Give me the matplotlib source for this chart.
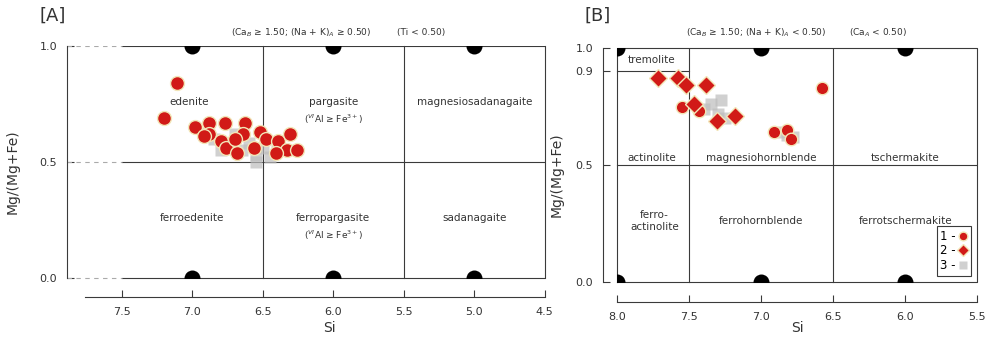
import numpy as np
import matplotlib
matplotlib.use("Agg")
import matplotlib.pyplot as plt
from matplotlib.patches import Rectangle

# Panel A data (Si, Mg/(Mg+Fe))
si_a1 = [7.11, 7.20, 6.98, 6.88, 6.77, 6.63, 6.88, 6.80, 6.64, 6.76, 6.68, 6.56, 6.52, 6.48, 6.39, 6.31, 6.33, 6.26, 6.41, 6.92, 6.70]
mg_a1 = [0.84, 0.69, 0.65, 0.67, 0.67, 0.67, 0.62, 0.59, 0.62, 0.56, 0.54, 0.56, 0.63, 0.60, 0.59, 0.62, 0.55, 0.55, 0.54, 0.61, 0.60]
si_a3 = [6.85, 6.75, 6.65, 6.55, 6.45, 6.90, 6.60, 6.50, 6.40, 6.70, 6.55, 6.80]
mg_a3 = [0.60, 0.57, 0.55, 0.53, 0.52, 0.63, 0.58, 0.56, 0.55, 0.62, 0.50, 0.55]

# Panel B data
si_b1 = [7.55, 7.43, 6.91, 6.82, 6.79, 6.58]
mg_b1 = [0.75, 0.73, 0.64, 0.65, 0.61, 0.83]
si_b2 = [7.72, 7.58, 7.52, 7.38, 7.47, 7.31, 7.18]
mg_b2 = [0.87, 0.87, 0.84, 0.84, 0.76, 0.69, 0.71]
si_b3 = [7.35, 7.30, 7.25, 7.40, 7.28, 6.82, 6.78, 6.85]
mg_b3 = [0.76, 0.72, 0.70, 0.74, 0.78, 0.63, 0.62, 0.64]

# black half-circles on the boundaries
si_end_a = [7.0, 6.0, 5.0]
si_end_b = [8.0, 7.0, 6.0]

red = "#d11a17"
edge = "#f2e6b8"
grey = "#bdbdbd"
txt = "#333333"
lc = "#3a3a3a"

fig = plt.figure(figsize=(9.85, 3.43), dpi=100)

# ---------------- [A] ----------------
ax = fig.add_axes([0.068, 0.134, 0.485, 0.732])
ax.set_xlim(7.89, 4.5)
ax.set_ylim(-0.082, 1.0)

for y in [0.0, 0.5, 1.0]:
    ax.plot([7.5, 4.5], [y, y], color=lc, lw=0.8)
    ax.plot([7.89, 7.5], [y, y], color="#aaaaaa", lw=0.8, ls=(0, (4, 4)))
for x in [6.5, 5.5, 4.5]:
    ax.plot([x, x], [0, 1], color=lc, lw=0.8, clip_on=False)

ax.plot(si_a3, mg_a3, "s", ms=9, color=grey, mec="none", alpha=0.7, zorder=3)
ax.plot(si_a1, mg_a1, "o", ms=10, mfc=red, mec=edge, mew=1.0, zorder=4)

# circles cut in half by the diagram frame
box_a = Rectangle((4.5, 0.0), 3.39, 1.0, transform=ax.transData)
for yy in [1.0, 0.0]:
    h, = ax.plot(si_end_a, [yy] * 3, ls="none", marker="o", ms=11.5, mfc="black", mec="none", zorder=5)
    h.set_clip_path(box_a)

fs = 7.5
ax.text(7.02, 0.76, "edenite", ha="center", va="center", fontsize=fs, color=txt)
ax.text(6.0, 0.76, "pargasite", ha="center", va="center", fontsize=fs, color=txt)
ax.text(6.0, 0.685, r"($^{VI}$Al ≥ Fe$^{3+}$)", ha="center", va="center", fontsize=6.5, color=txt)
ax.text(5.0, 0.76, "magnesiosadanagaite", ha="center", va="center", fontsize=fs, color=txt)
ax.text(7.0, 0.26, "ferroedenite", ha="center", va="center", fontsize=fs, color=txt)
ax.text(6.0, 0.26, "ferropargasite", ha="center", va="center", fontsize=fs, color=txt)
ax.text(6.0, 0.185, r"($^{VI}$Al ≥ Fe$^{3+}$)", ha="center", va="center", fontsize=6.5, color=txt)
ax.text(5.0, 0.26, "sadanagaite", ha="center", va="center", fontsize=fs, color=txt)
ax.text(6.23, 1.056, r"(Ca$_B$ ≥ 1.50; (Na + K)$_A$ ≥ 0.50)", ha="center", va="center",
        fontsize=6.5, color=txt, clip_on=False)
ax.text(5.38, 1.056, "(Ti < 0.50)", ha="center", va="center", fontsize=6.5, color=txt, clip_on=False)

ax.spines["top"].set_visible(False)
ax.spines["right"].set_visible(False)
ax.spines["left"].set_bounds(0, 1)
ax.spines["bottom"].set_bounds(7.76, 4.5)
for s in ["left", "bottom"]:
    ax.spines[s].set_color(lc)
    ax.spines[s].set_linewidth(0.8)
ax.set_xticks([7.5, 7.0, 6.5, 6.0, 5.5, 5.0, 4.5])
ax.set_xticklabels(["7.5", "7.0", "6.5", "6.0", "5.5", "5.0", "4.5"])
ax.set_yticks([0.0, 0.5, 1.0])
ax.set_yticklabels(["0.0", "0.5", "1.0"])
ax.tick_params(direction="in", length=5, width=0.8, color=lc, labelsize=8, labelcolor=txt, pad=7)
ax.set_xlabel("Si", fontsize=10, color=txt)
ax.xaxis.set_label_coords(0.55, -0.095)
ax.set_ylabel("Mg/(Mg+Fe)", fontsize=10, color=txt)
ax.yaxis.set_label_coords(-0.1, 0.5)

# ---------------- [B] ----------------
bx = fig.add_axes([0.612, 0.1195, 0.380, 0.7405])
bx.set_xlim(8.10, 5.5)
bx.set_ylim(-0.085, 1.0)

bx.plot([8.0, 5.5, 5.5, 8.0, 8.0], [0, 0, 1, 1, 0], color=lc, lw=0.8, clip_on=False)
for x in [7.5, 6.5]:
    bx.plot([x, x], [0, 1], color=lc, lw=0.8)
bx.plot([8.0, 5.5], [0.5, 0.5], color=lc, lw=0.8)
bx.plot([8.0, 7.5], [0.9, 0.9], color=lc, lw=0.8)

bx.plot(si_b3, mg_b3, "s", ms=9, color=grey, mec="none", alpha=0.7, zorder=3, label="3 -")
bx.plot(si_b1, mg_b1, "o", ms=9, mfc=red, mec=edge, mew=1.0, zorder=4, label="1 -")
bx.plot(si_b2, mg_b2, "D", ms=9, mfc=red, mec=edge, mew=1.0, zorder=4, label="2 -")

box_b = Rectangle((5.5, 0.0), 2.5, 1.0, transform=bx.transData)
for yy in [1.0, 0.0]:
    h, = bx.plot(si_end_b, [yy] * 3, ls="none", marker="o", ms=11.5, mfc="black", mec="none", zorder=5)
    h.set_clip_path(box_b)

bx.text(7.76, 0.95, "tremolite", ha="center", va="center", fontsize=fs, color=txt)
bx.text(7.76, 0.53, "actinolite", ha="center", va="center", fontsize=fs, color=txt)
bx.text(7.0, 0.53, "magnesiohornblende", ha="center", va="center", fontsize=fs, color=txt)
bx.text(6.0, 0.53, "tschermakite", ha="center", va="center", fontsize=fs, color=txt)
bx.text(7.74, 0.26, "ferro-\nactinolite", ha="center", va="center", fontsize=fs, color=txt,
        linespacing=1.3)
bx.text(7.0, 0.26, "ferrohornblende", ha="center", va="center", fontsize=fs, color=txt)
bx.text(6.0, 0.26, "ferrotschermakite", ha="center", va="center", fontsize=fs, color=txt)
bx.text(7.035, 1.064, r"(Ca$_B$ ≥ 1.50; (Na + K)$_A$ < 0.50)", ha="center", va="center",
        fontsize=6.5, color=txt, clip_on=False)
bx.text(6.19, 1.064, r"(Ca$_A$ < 0.50)", ha="center", va="center", fontsize=6.5, color=txt,
        clip_on=False)

handles, labels = bx.get_legend_handles_labels()
order = [1, 2, 0]
leg = bx.legend([handles[i] for i in order], [labels[i] for i in order], loc="lower right",
                bbox_to_anchor=(1.0, 0.08), markerfirst=False, fontsize=8.5, handlelength=0.8,
                handletextpad=0.2, borderpad=0.3, labelspacing=0.15, fancybox=False,
                edgecolor=lc, framealpha=1, markerscale=0.7)
leg.get_frame().set_linewidth(0.8)

bx.spines["top"].set_visible(False)
bx.spines["right"].set_visible(False)
bx.spines["left"].set_bounds(0, 1)
bx.spines["bottom"].set_bounds(8.0, 5.5)
for s in ["left", "bottom"]:
    bx.spines[s].set_color(lc)
    bx.spines[s].set_linewidth(0.8)
bx.set_xticks([8.0, 7.5, 7.0, 6.5, 6.0, 5.5])
bx.set_xticklabels(["8.0", "7.5", "7.0", "6.5", "6.0", "5.5"])
bx.set_yticks([0.0, 0.5, 0.9, 1.0])
bx.set_yticklabels(["0.0", "0.5", "0.9", "1.0"])
bx.tick_params(direction="in", length=5, width=0.8, color=lc, labelsize=8, labelcolor=txt, pad=7)
bx.set_xlabel("Si", fontsize=10, color=txt)
bx.xaxis.set_label_coords(0.52, -0.075)
bx.set_ylabel("Mg/(Mg+Fe)", fontsize=10, color=txt)
bx.yaxis.set_label_coords(-0.105, 0.5)

fig.text(0.053, 0.955, "[A]", fontsize=13, color=txt, ha="center", va="center")
fig.text(0.607, 0.955, "[B]", fontsize=13, color=txt, ha="center", va="center")

fig.savefig("out.png", dpi=100)
